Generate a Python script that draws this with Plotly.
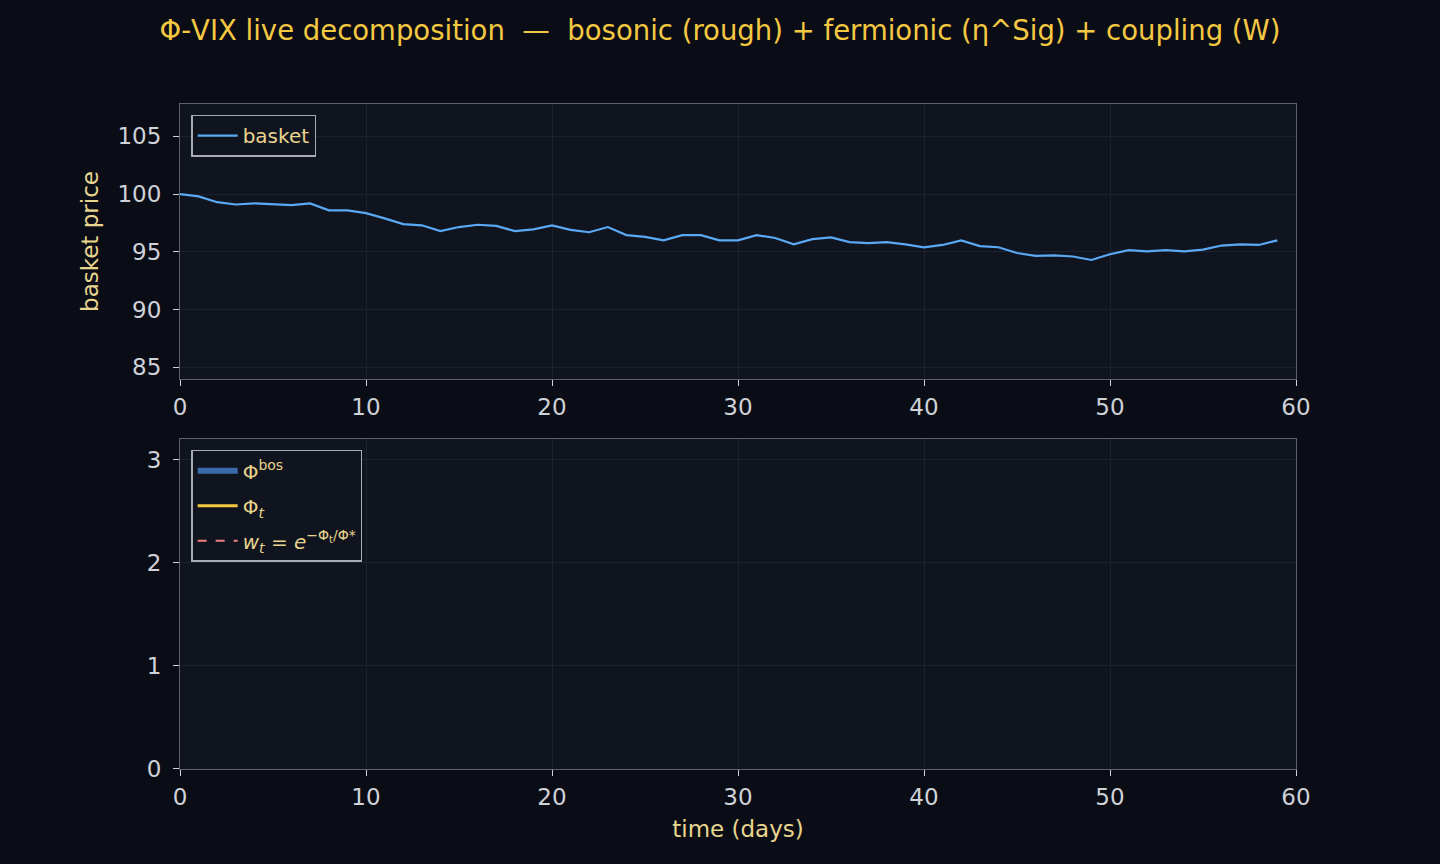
import plotly.graph_objects as go
from plotly.subplots import make_subplots

days = list(range(60))
basket = [100.0, 99.8, 99.3, 99.1, 99.2, 99.15, 99.05, 99.2, 98.6, 98.6,
          98.35, 97.9, 97.4, 97.3, 96.8, 97.15, 97.35, 97.25, 96.8, 96.95,
          97.3, 96.9, 96.7, 97.15, 96.45, 96.3, 96.0, 96.45, 96.45, 96.0,
          96.0, 96.45, 96.2, 95.65, 96.1, 96.25, 95.85, 95.75, 95.85, 95.65,
          95.4, 95.6, 96.0, 95.5, 95.4, 94.9, 94.65, 94.7, 94.6, 94.3,
          94.8, 95.15, 95.05, 95.15, 95.05, 95.2, 95.55, 95.65, 95.6, 96.0]

PAPER = "#0a0d16"
PLOT = "#10141f"
GRID = "#1c2130"
FRAME = "#5c616d"
TICK = "#cfd2d8"
LABEL = "#e8d58e"
GOLD = "#f5c842"

fig = make_subplots(rows=2, cols=1)

fig.add_trace(go.Scatter(x=days, y=basket, mode="lines", name="basket", showlegend=True,
                         line=dict(color="#5aa9f5", width=2.2), legend="legend"),
              row=1, col=1)

fig.add_trace(go.Scatter(x=[None], y=[None], mode="none", fill="toself",
                         fillcolor="#3b6aa8", name="Φ<sup>bos</sup>", showlegend=True,
                         legend="legend2", legendgroup="a"),
              row=2, col=1)
fig.add_trace(go.Scatter(x=[None], y=[None], mode="lines", name="Φ<sub><i>t</i></sub>",
                         showlegend=True, line=dict(color="#f5c842", width=3),
                         legend="legend2", legendgroup="b"),
              row=2, col=1)
fig.add_trace(go.Scatter(x=[None], y=[None], mode="lines", showlegend=True,
                         name="<i>w<sub>t</sub></i> = <i>e</i><sup>−Φ<sub>t</sub>/Φ*</sup>",
                         line=dict(color="#f08080", width=2, dash="dash"),
                         legend="legend2", legendgroup="c"),
              row=2, col=1)

axis_common = dict(showline=True, mirror=True, linecolor=FRAME, linewidth=1.2,
                   gridcolor=GRID, zeroline=False, ticks="outside", ticklen=6,
                   tickwidth=1.3, tickcolor=TICK,
                   tickfont=dict(size=23, color=TICK))

fig.update_xaxes(range=[0, 60], tick0=0, dtick=10, ticklabelstandoff=1, **axis_common)
fig.update_yaxes(ticklabelstandoff=7, **axis_common)
fig.update_yaxes(range=[84.0, 107.8], tickvals=[85, 90, 95, 100, 105], domain=[0.5865, 1.0],
                 title=dict(text="basket price", font=dict(size=23, color=LABEL), standoff=12),
                 row=1, col=1)
fig.update_yaxes(range=[0, 3.2], tickvals=[0, 1, 2, 3], domain=[0.0, 0.4962], row=2, col=1)
fig.update_xaxes(title=dict(text="time (days)", font=dict(size=23, color=LABEL), standoff=12),
                 row=2, col=1)

legend_style = dict(bgcolor=PLOT, bordercolor="#a8abb2", borderwidth=1.5,
                    font=dict(size=20, color=LABEL), xanchor="left", yanchor="top",
                    itemwidth=40, visible=True)

fig.update_layout(
    width=1440, height=864, showlegend=True,
    paper_bgcolor=PAPER, plot_bgcolor=PLOT,
    margin=dict(l=180, r=144, t=104, b=95),
    font=dict(family="DejaVu Sans", color=TICK),
    title=dict(text="Φ-VIX live decomposition  —  bosonic (rough) + fermionic (η^Sig) + coupling (W)",
               x=0.5, xanchor="center", y=0.965, yanchor="middle",
               font=dict(size=27.5, color=GOLD)),
    legend=dict(x=0.01, y=0.984, **legend_style),
    legend2=dict(x=0.01, y=0.48, tracegroupgap=6, **legend_style),
)

fig.write_html("out.html")
